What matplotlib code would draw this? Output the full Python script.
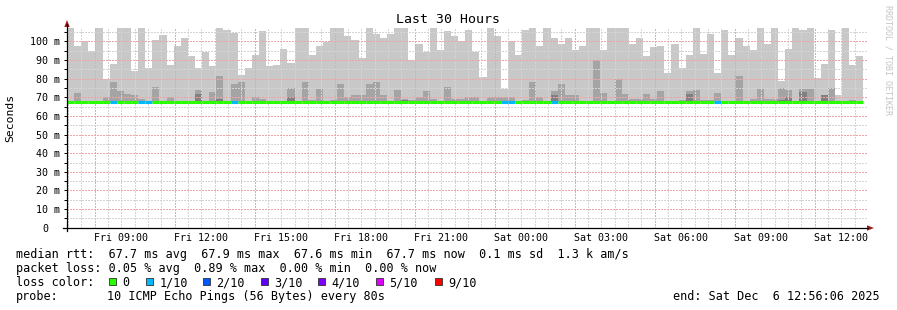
import numpy as np
import matplotlib
matplotlib.use('Agg')
import matplotlib.pyplot as plt
import matplotlib.transforms as mtransforms
from matplotlib.lines import Line2D
from matplotlib.patches import Rectangle, Polygon

plt.rcParams['font.family'] = ['DejaVu Sans Mono']

W, H = 897, 310

# ---- data ----
title = 'Last 30 Hours'
y_label = 'Seconds'
time_labels = ['Fri 09:00', 'Fri 12:00', 'Fri 15:00', 'Fri 18:00', 'Fri 21:00',
               'Sat 00:00', 'Sat 03:00', 'Sat 06:00', 'Sat 09:00', 'Sat 12:00']
label_hours = [9, 12, 15, 18, 21, 24, 27, 30, 33, 36]   # hours since Fri 00:00
y_ticks = [0, 10, 20, 30, 40, 50, 60, 70, 80, 90, 100]
y_labels = ['0', '10 m', '20 m', '30 m', '40 m', '50 m', '60 m', '70 m', '80 m', '90 m', '100 m']

t_start = 6.96      # graph starts Fri ~06:57
span_h = 30
step_h = 16 / 60    # one smoke bin = 16 min

# upper edge of the smoke (ms), one value per bin
smoke_max = [107.5, 97.8, 100, 95, 107, 80, 88, 107, 107.5, 84.4, 107.5, 86, 101, 103.7, 87.6, 97.3,
             102, 92, 86, 94.6, 87, 107.5, 106.4, 104.3, 82.2, 86, 92.5, 105.4, 87, 87.6, 95.7, 88.7,
             107.5, 107, 93, 97.8, 99.7, 107.5, 107.5, 102.7, 101, 90.9, 107.5, 103.8, 101.6, 103.8, 107.5, 107.5,
             90.3, 98.4, 94.6, 107.5, 95.2, 105.4, 102.7, 100.5, 106.4, 94.3, 81, 107.5, 102.7, 74.7, 100.5, 93,
             106.4, 107.5, 97.8, 107.5, 102, 98.9, 102, 95.2, 97.3, 107.5, 107.5, 95.2, 107.5, 107.5, 107.5, 98.4,
             102, 92, 96.8, 97.3, 83.3, 98.9, 86, 93, 107.5, 93.5, 103.8, 83.3, 106.4, 93, 102, 97.8,
             95.2, 107.5, 98.9, 107.5, 79, 95.7, 107.5, 106.4, 107.5, 80.6, 88, 105.9, 71.5, 107.5, 87.6, 92]

# median rtt per bin (ms)
median_rtt = [67.7, 67.3, 67.3, 67.7, 67.3, 67.3, 67.7, 67.3, 67.3, 67.7, 67.7, 67.7, 67.7, 67.7, 67.7, 67.7,
              67.7, 67.7, 67.7, 67.3, 67.7, 67.7, 67.7, 67.7, 67.7, 67.3, 67.7, 67.7, 67.7, 67.3, 67.7, 67.7,
              67.7, 67.7, 67.7, 67.7, 67.7, 67.7, 67.7, 67.7, 67.7, 67.7, 67.7, 67.7, 67.7, 67.7, 67.7, 67.7,
              67.7, 67.7, 67.7, 67.7, 67.3, 67.7, 67.7, 67.7, 67.7, 67.7, 67.7, 67.7, 67.3, 67.5, 67.7, 67.7,
              67.7, 67.7, 67.7, 67.3, 67.7, 67.3, 67.3, 67.7, 67.7, 67.7, 67.7, 67.7, 67.7, 67.3, 67.3, 67.7,
              67.7, 67.3, 67.3, 67.7, 67.3, 67.3, 67.7, 67.7, 67.7, 67.7, 67.7, 67.7, 67.7, 67.7, 67.7, 67.3,
              67.7, 67.7, 67.7, 67.3, 67.3, 67.7, 67.3, 67.3, 67.7, 67.7, 67.3, 67.7, 67.7, 67.7, 67.7, 67.7]

# inner (darker) smoke layers: bin number (1-based) and top value
mid_bins = [2, 6, 7, 8, 9, 10, 11, 13, 15, 19, 21, 22, 24, 25, 27, 28, 32,
            34, 35, 36, 38, 39, 40, 41, 42, 43, 44, 45, 47, 48, 49, 50, 51, 52, 54, 55, 56, 57, 58,
            60, 61, 62, 63, 65, 66, 67, 69, 70, 71, 72, 75,
            76, 78, 79, 80, 81, 82, 83, 84, 87, 88, 89, 90, 91, 92, 95, 97, 98, 99, 100,
            101, 102, 104, 105, 107, 108, 111]
mid_vals = [72.5, 70, 78, 73.6, 72, 71.5, 69.3, 75.8, 70.4, 74.2, 73, 81.7, 77.4, 78, 70.4, 69.3, 75.2,
            78.5, 68.8, 74.7, 68.8, 77.4, 70.4, 71.5, 71, 77.4, 78.5, 71, 74.2, 69.3, 68.8, 70, 73.6, 69.3, 75.8, 69.3, 69.3, 70.4, 70.4,
            70, 70, 70, 70, 68.8, 78.5, 70, 73.6, 77.4, 71, 71, 89.8,
            72.5, 80, 72, 69, 69, 72, 69.3, 73.6, 68.8, 73.6, 74.2, 68.8, 68.8, 72.5, 81.7, 69.3, 74.7, 69.3, 69.3,
            75.2, 74.2, 74.7, 74.7, 71.5, 75.2, 68.8]
dark_bins = [19, 22, 32, 48, 69, 88, 101, 102, 104, 107]
dark_vals = [72, 69, 70, 68.8, 71.5, 72, 68.8, 70, 73, 71]

# bins whose median was drawn in the 1/10 loss colour
loss_bins = [7, 11, 12, 24, 62, 63, 69, 92]

stats_rtt = 'median rtt:  67.7 ms avg  67.9 ms max  67.6 ms min  67.7 ms now  0.1 ms sd  1.3 k am/s'
stats_loss = 'packet loss: 0.05 % avg  0.89 % max  0.00 % min  0.00 % now'
loss_names = ['0', '1/10', '2/10', '3/10', '4/10', '5/10', '9/10']
loss_colors = ['#26ff00', '#00b8ff', '#0059ff', '#5e00ff', '#7e00ff', '#dd00ff', '#ff0000']
probe_text = '10 ICMP Echo Pings (56 Bytes) every 80s'
end_text = 'end: Sat Dec  6 12:56:06 2025'

# ---- figure ----
fig = plt.figure(figsize=(W / 100, H / 100), dpi=100)
fig.patch.set_facecolor('white')


def fy(py):
    # pixel row from top -> figure fraction
    return 1 - py / H


L, R, T, B = 67, 867, 27.5, 227.7
ax = fig.add_axes([L / W, fy(B), (R - L) / W, (B - T) / H])
ax.set_xlim(t_start, t_start + span_h)
ax.set_ylim(0, 107.5)
for s in ax.spines.values():
    s.set_visible(False)

n = len(smoke_max)
med = np.array(median_rtt)
xc = t_start + (np.arange(n) + 0.5) * step_h
ax.bar(xc, np.array(smoke_max) - med, bottom=med, width=step_h,
       color='#c8c8c8', lw=0, antialiased=False, zorder=1)
mi = np.array(mid_bins) - 1
ax.bar(xc[mi], np.array(mid_vals) - med[mi], bottom=med[mi], width=step_h,
       color='#a4a4a4', lw=0, antialiased=False, zorder=1.5)
di = np.array(dark_bins) - 1
ax.bar(xc[di], np.array(dark_vals) - med[di], bottom=med[di], width=step_h,
       color='#808080', lw=0, antialiased=False, zorder=1.6)

# grid (rrdtool style dotted lines)
dot = (0, (1.4, 1.4))
red_grid = '#eda5a5'
gray_grid = '#d4d4d4'
for h in np.arange(7.0, t_start + span_h, 0.5):
    major = abs((h - 8) % 3) < 1e-6
    ax.axvline(h, color=red_grid if major else gray_grid, lw=0.72, ls=dot,
               antialiased=False, zorder=2)
for v in range(5, 108, 5):
    ax.axhline(v, color=red_grid if v % 10 == 0 else gray_grid, lw=0.72, ls=dot,
               antialiased=False, zorder=2)

# median line coloured by loss
line_cols = [loss_colors[1] if i + 1 in loss_bins else loss_colors[0] for i in range(n)]
ax.hlines(med, xc - step_h / 2, xc + step_h / 2, colors=line_cols, lw=2.2, zorder=4)

# ticks
ax.set_xticks(label_hours)
ax.set_xticklabels(time_labels, fontsize=7.2)
ax.tick_params(axis='x', length=0, pad=4)
ax.set_yticks(y_ticks)
ax.set_yticks(range(5, 106, 10), minor=True)
ax.tick_params(axis='y', which='both', direction='out', length=2, width=0.72,
               labelleft=False)
ytr = ax.get_yaxis_transform()
for v, lab in zip(y_ticks, y_labels):
    shift = -19 if lab == '0' else -7
    off = mtransforms.ScaledTranslation(shift / 100, 0, fig.dpi_scale_trans)
    ax.text(0, v, lab, transform=ytr + off, ha='right', va='center_baseline', fontsize=7.2)

# axes with arrows
fig.add_artist(Line2D([63 / W, 868 / W], [fy(228)] * 2, color='black', lw=0.9))
fig.add_artist(Line2D([67 / W] * 2, [fy(231), fy(24)], color='black', lw=0.9))
arrow_col = '#a01c1c'
fig.add_artist(Polygon([[867 / W, fy(225.3)], [874 / W, fy(228)], [867 / W, fy(230.7)]],
                       closed=True, color=arrow_col, lw=0))
fig.add_artist(Polygon([[64.3 / W, fy(27)], [67 / W, fy(20)], [69.7 / W, fy(27)]],
                       closed=True, color=arrow_col, lw=0))

# texts
fig.text(448 / W, fy(19.3), title, ha='center', va='center', fontsize=9.5)
fig.text(10 / W, fy(118), y_label, rotation=90, ha='center', va='center', fontsize=8.2)
fig.text(888 / W, fy(60), 'RRDTOOL / TOBI OETIKER', rotation=270, ha='center', va='center',
         fontsize=6, color='#c4c4c4')

leg_fs = 8.5
fig.text(16 / W, fy(258.3), stats_rtt, va='baseline', fontsize=leg_fs)
fig.text(16 / W, fy(272.3), stats_loss, va='baseline', fontsize=leg_fs)
fig.text(16 / W, fy(286.3), 'loss color:', va='baseline', fontsize=leg_fs)
box_px = [109, 145.7, 202.7, 261, 317.7, 375.7, 435]
for bx, name, col in zip(box_px, loss_names, loss_colors):
    fig.add_artist(Rectangle((bx / W, fy(285)), 7 / W, 7 / H, facecolor=col,
                             edgecolor='#303030', lw=0.6))
    fig.text((bx + 13.5) / W, fy(286.3), name, va='baseline', fontsize=leg_fs)
fig.text(16 / W, fy(300.3), 'probe:', va='baseline', fontsize=leg_fs)
fig.text(107 / W, fy(300.3), probe_text, va='baseline', fontsize=leg_fs)
fig.text(880 / W, fy(300.3), end_text, ha='right', va='baseline', fontsize=leg_fs)

fig.savefig('out.png', dpi=100, facecolor='white')
